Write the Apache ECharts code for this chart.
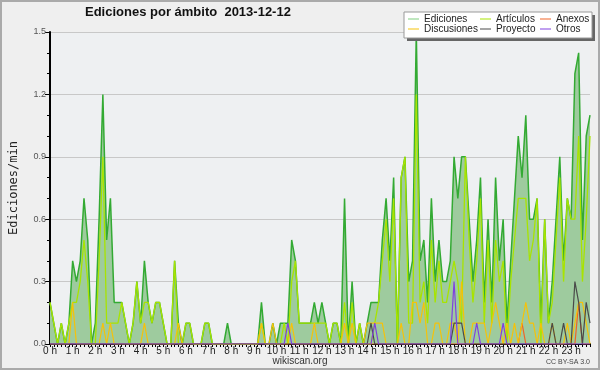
<!DOCTYPE html>
<html><head><meta charset="utf-8">
<script src="https://cdn.jsdelivr.net/npm/echarts@6/dist/echarts.min.js"></script>
<style>html,body{margin:0;padding:0;background:#efefef}#c{width:600px;height:370px}</style>
</head><body><div id="c"></div>
<script>
const hourLabels = ['0 h','1 h','2 h','3 h','4 h','5 h','6 h','7 h','8 h','9 h','10 h','11 h','12 h','13 h','14 h','15 h','16 h','17 h','18 h','19 h','20 h','21 h','22 h','23 h'];
const minuteSteps = ['00','10','20','30','40','50'];

const ediciones = [
 0.2,0.1,0,0.1,0,0.1,0.4,0.3,0.4,0.7,
 0.5,0,0.1,0.6,1.2,0.5,0.7,0.2,0.2,0.2,
 0.1,0,0.1,0.3,0.1,0.4,0.2,0.1,0.2,0.2,
 0.1,0,0,0.4,0.1,0,0.1,0.1,0,0,
 0,0.1,0.1,0,0,0,0,0.1,0,0,
 0,0,0,0,0,0,0.2,0,0,0.1,
 0,0.1,0.1,0.1,0.5,0.4,0.1,0.1,0.1,0.1,
 0.2,0.1,0.2,0.1,0,0.1,0.1,0,0.7,0,
 0.3,0,0.1,0,0.1,0.2,0.2,0.2,0.5,0.7,
 0.4,0.8,0,0.8,0.9,0.3,0.4,1.5,0.4,0.5,
 0.2,0.7,0.3,0.5,0.3,0.3,0.4,0.9,0.7,0.9,
 0.9,0.6,0.3,0.5,0.8,0.2,0.6,0.2,0.8,0.4,
 0.6,0.1,0.4,0.7,1.0,0.8,1.1,0.6,0.6,0.7,
 0.1,0.6,0.1,0.3,0.6,0.9,0.4,0.7,0.6,1.3,
 1.4,0.5,1.0,1.1
];
const articulos = [
 0.2,0.1,0,0.1,0,0.1,0.2,0.2,0.3,0.5,
 0.3,0,0,0.4,0.9,0.1,0.1,0.1,0.1,0.2,
 0.1,0,0.1,0.3,0.1,0.2,0.2,0.1,0.2,0.2,
 0.1,0,0,0.4,0,0,0.1,0.1,0,0,
 0,0.1,0.1,0,0,0,0,0,0,0,
 0,0,0,0,0,0,0.1,0,0,0,
 0,0,0.1,0,0.3,0.4,0.1,0.1,0.1,0.1,
 0.1,0.1,0.1,0.1,0,0.1,0.1,0,0.2,0,
 0.2,0,0.1,0,0,0,0.1,0.2,0.4,0.6,
 0.3,0.7,0,0.8,0.9,0.1,0.1,1.2,0.2,0.3,
 0.1,0.5,0.2,0.4,0.2,0.2,0.3,0.4,0.3,0.1,
 0.9,0.5,0.2,0.4,0.7,0.1,0.5,0.1,0.5,0.3,
 0.4,0,0.3,0.5,0.7,0.7,0.7,0.4,0.5,0.7,
 0,0.6,0.1,0.2,0.5,0.8,0.3,0.7,0.6,0.6,
 1.0,0.3,0.6,1.0
];
const anexos = [
 0,0,0,0,0,0,0,0,0,0, 0,0,0,0,0,0,0,0,0,0,
 0,0,0,0,0,0,0,0,0,0, 0,0,0,0,0,0,0,0,0,0,
 0,0,0,0,0,0,0,0,0,0, 0,0,0,0,0,0,0,0,0,0,
 0,0,0,0,0,0,0,0,0,0, 0,0,0,0,0,0,0,0,0,0,
 0,0,0,0,0,0,0,0,0,0, 0,0,0,0,0,0,0,0,0,0,
 0,0,0,0,0,0,0,0,0,0, 0,0,0,0,0,0,0,0,0,0,
 0,0,0,0,0,0.1,0,0,0,0, 0,0,0,0,0,0,0,0,0,0,
 0.2,0,0,0
];
const discusiones = [
 0,0,0,0,0,0,0.2,0,0,0,
 0,0,0,0,0.1,0,0.1,0,0,0,
 0,0,0,0,0,0.1,0,0,0,0,
 0,0,0,0,0.1,0,0,0,0,0,
 0,0,0,0,0,0,0,0,0,0,
 0,0,0,0,0,0,0.1,0,0,0.1,
 0,0,0,0,0.1,0,0,0,0,0,
 0.1,0,0,0,0,0,0,0,0.1,0,
 0.1,0,0,0,0.1,0.1,0.1,0.1,0.1,0,
 0,0,0,0.1,0,0,0.2,0.2,0.1,0.2,
 0,0,0.1,0.1,0,0,0.1,0.1,0,0.3,
 0,0,0.1,0.1,0.1,0.1,0,0.1,0.2,0.1,
 0,0.1,0,0.1,0,0.1,0.2,0.1,0.1,0,
 0.1,0,0,0.1,0,0,0,0.1,0,0.1,
 0.2,0.2,0.1,0
];
const proyecto = [
 0,0,0,0,0,0,0,0,0,0, 0,0,0,0,0,0,0,0,0,0,
 0,0,0,0,0,0,0,0,0,0, 0,0,0,0,0,0,0,0,0,0,
 0,0,0,0,0,0,0,0,0,0, 0,0,0,0,0,0,0,0,0,0,
 0,0,0,0,0,0,0,0,0,0, 0,0,0,0,0,0,0,0,0,0,
 0,0,0,0,0,0.1,0,0,0,0, 0,0,0,0,0,0,0,0,0,0,
 0,0,0,0,0,0,0,0.1,0.1,0.1, 0,0,0,0,0,0,0,0,0,0,
 0,0,0,0,0,0,0,0,0,0, 0,0,0,0.1,0,0,0.1,0,0,0.3,
 0.2,0,0.2,0.1
];
const otros = [
 0,0,0,0,0,0,0,0,0,0, 0,0,0,0,0,0,0,0,0,0,
 0,0,0,0,0,0,0,0,0,0, 0,0,0,0,0,0,0,0,0,0,
 0,0,0,0,0,0,0,0,0,0, 0,0,0,0,0,0,0,0,0,0,
 0,0,0,0.1,0,0,0,0,0,0, 0,0,0,0,0,0,0,0,0,0,
 0,0,0,0,0,0,0.1,0,0,0, 0,0,0,0,0,0,0,0,0,0,
 0,0,0,0,0,0,0,0.3,0,0, 0,0,0,0.1,0,0,0,0,0,0,
 0.1,0,0,0,0,0,0,0,0,0, 0,0,0,0,0,0,0,0,0,0,
 0,0,0,0
];

const categories = [];
hourLabels.forEach((h, hi) => minuteSteps.forEach(m => categories.push(hi + ':' + m)));

const colors = {
  edi: '#33aa33', ediArea: '#9ecb9e', ediLegend: '#7fcf7f',
  art: '#a8e400', anx: '#f06428', dis: '#f5c20a', pro: '#4a4a4a', otr: '#8040e0'
};
const FONT = 'Liberation Sans, Arial, sans-serif';

function lineSeries(name, data, color, w) {
  return { name, type: 'line', data, symbol: 'none', showSymbol: false,
    lineStyle: { color, width: w }, itemStyle: { color }, animation: false };
}

const legendItems = [
  ['Ediciones', colors.ediLegend, 408, 14],
  ['Artículos', colors.art, 480, 14],
  ['Anexos', colors.anx, 540, 14],
  ['Discusiones', colors.dis, 408, 24],
  ['Proyecto', colors.pro, 480, 24],
  ['Otros', colors.otr, 540, 24]
];

const chart = echarts.init(document.getElementById('c'), null, { renderer: 'canvas' });
chart.setOption({
  backgroundColor: '#efefef',
  animation: false,
  title: { text: 'Ediciones por ámbito  2013-12-12', left: 85, top: 6, padding: 0,
    textStyle: { fontSize: 13, fontWeight: 'bold', fontFamily: FONT, color: '#111' } },
  legend: legendItems.map(([name, color, left, top]) => ({
    left, top, padding: 0, z: 20, selectedMode: false, icon: 'rect',
    itemWidth: 11, itemHeight: 1,
    data: [{ name, itemStyle: { color } }],
    textStyle: { fontSize: 10, fontFamily: FONT, color: '#222' }
  })),
  grid: { left: 46, right: 10, top: 32, bottom: 26, show: true, backgroundColor: '#eef0f2', borderWidth: 0 },
  xAxis: {
    type: 'category', data: categories, boundaryGap: false,
    axisLine: { show: true, lineStyle: { color: '#000', width: 2 } },
    axisTick: { show: true, interval: 0, length: 3, lineStyle: { color: '#000', width: 1 } },
    axisLabel: { interval: 5, margin: 2, fontSize: 10, color: '#222', fontFamily: FONT,
      formatter: (v, i) => hourLabels[Math.floor(i / 6)] },
    splitLine: { show: false }
  },
  yAxis: {
    type: 'value', min: 0, max: 1.5, interval: 0.3,
    name: 'Ediciones/min', nameLocation: 'middle', nameGap: 30, nameRotate: 90,
    nameTextStyle: { fontFamily: 'DejaVu Sans Mono', fontSize: 12, color: '#222' },
    axisLine: { show: true, lineStyle: { color: '#000', width: 2 } },
    axisTick: { show: true, length: 5, lineStyle: { color: '#000', width: 1 } },
    minorTick: { show: true, splitNumber: 3, length: 3, lineStyle: { color: '#000', width: 1 } },
    axisLabel: { formatter: v => v.toFixed(1), fontSize: 9, color: '#555', margin: 4, fontFamily: FONT },
    splitLine: { show: true, lineStyle: { color: '#c8c8c8', width: 1 } }
  },
  series: [
    Object.assign(lineSeries('Ediciones', ediciones, colors.edi, 1.5),
      { areaStyle: { color: colors.ediArea, opacity: 1 } }),
    lineSeries('Artículos', articulos, colors.art, 1.3),
    lineSeries('Anexos', anexos, colors.anx, 1.2),
    lineSeries('Discusiones', discusiones, colors.dis, 1.2),
    lineSeries('Proyecto', proyecto, colors.pro, 1.2),
    lineSeries('Otros', otros, colors.otr, 1.2)
  ],
  graphic: { elements: [
    { type: 'rect', z: 9, shape: { x: 407, y: 15, width: 188, height: 26 }, style: { fill: '#666' } },
    { type: 'rect', z: 10, shape: { x: 404, y: 12, width: 188, height: 26 }, style: { fill: '#ffffff', stroke: '#999', lineWidth: 1 } },
    { type: 'text', z: 10, x: 300, y: 361, style: { text: 'wikiscan.org', font: '10px ' + FONT, fill: '#333', align: 'center', verticalAlign: 'middle' } },
    { type: 'text', z: 10, x: 590, y: 362, style: { text: 'CC BY-SA 3.0', font: '7px ' + FONT, fill: '#444', align: 'right', verticalAlign: 'middle' } },
    { type: 'rect', z: 100, shape: { x: 1, y: 1, width: 598, height: 368 }, style: { fill: 'none', stroke: '#aaa', lineWidth: 2 } }
  ] }
});
</script></body></html>
